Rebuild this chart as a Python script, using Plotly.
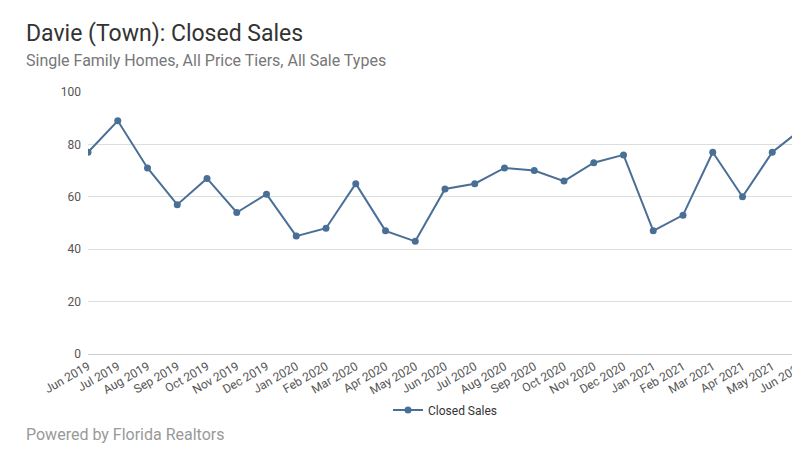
import plotly.graph_objects as go

months = ["Jun 2019", "Jul 2019", "Aug 2019", "Sep 2019", "Oct 2019", "Nov 2019", "Dec 2019",
          "Jan 2020", "Feb 2020", "Mar 2020", "Apr 2020", "May 2020", "Jun 2020", "Jul 2020",
          "Aug 2020", "Sep 2020", "Oct 2020", "Nov 2020", "Dec 2020", "Jan 2021", "Feb 2021",
          "Mar 2021", "Apr 2021", "May 2021", "Jun 2021"]
closed_sales = [77, 89, 71, 57, 67, 54, 61, 45, 48, 65, 47, 43, 63, 65,
                71, 70, 66, 73, 76, 47, 53, 77, 60, 77, 86]

L, R, T, B = 80, 6, 84, 104
PW, PH = 800 - L - R, 450 - T - B


def px_x(x):
    return (x - L) / PW


def px_y(y):
    return 1 - (y - T) / PH


fig = go.Figure(go.Scatter(
    x=months, y=closed_sales, mode="lines+markers", name="Closed Sales",
    line=dict(color="#4a6f96", width=2), marker=dict(size=7, color="#4a6f96"),
))

fig.update_layout(
    width=800, height=450,
    font=dict(family="Roboto, sans-serif", color="#555"),
    plot_bgcolor="white", paper_bgcolor="white",
    margin=dict(l=L, r=R, t=T, b=B, autoexpand=False),
    showlegend=True,
    legend=dict(orientation="h", x=0.5, xanchor="center", y=px_y(402), yanchor="middle",
                font=dict(size=12, color="#333")),
    annotations=[
        dict(text="Davie (Town): Closed Sales", x=px_x(16), y=px_y(26),
             font=dict(size=23, color="#333")),
        dict(text="Single Family Homes, All Price Tiers, All Sale Types", x=px_x(16), y=px_y(53),
             font=dict(size=16, color="#777")),
        dict(text="Powered by Florida Realtors", x=px_x(16), y=px_y(426),
             font=dict(size=16, color="#999")),
    ],
)
fig.update_annotations(xref="paper", yref="paper", showarrow=False,
                       xanchor="left", yanchor="middle")

fig.update_xaxes(type="category", range=[0, 24], showgrid=False, tickangle=-30,
                 tickfont=dict(size=12, color="#555"), ticks="", showline=True,
                 linecolor="#ccc", automargin=False)
fig.update_yaxes(range=[0, 100], dtick=20, gridcolor="#ddd", zeroline=False,
                 tickfont=dict(size=12, color="#555"), ticksuffix="  ", automargin=False)

fig.write_html("out.html")
